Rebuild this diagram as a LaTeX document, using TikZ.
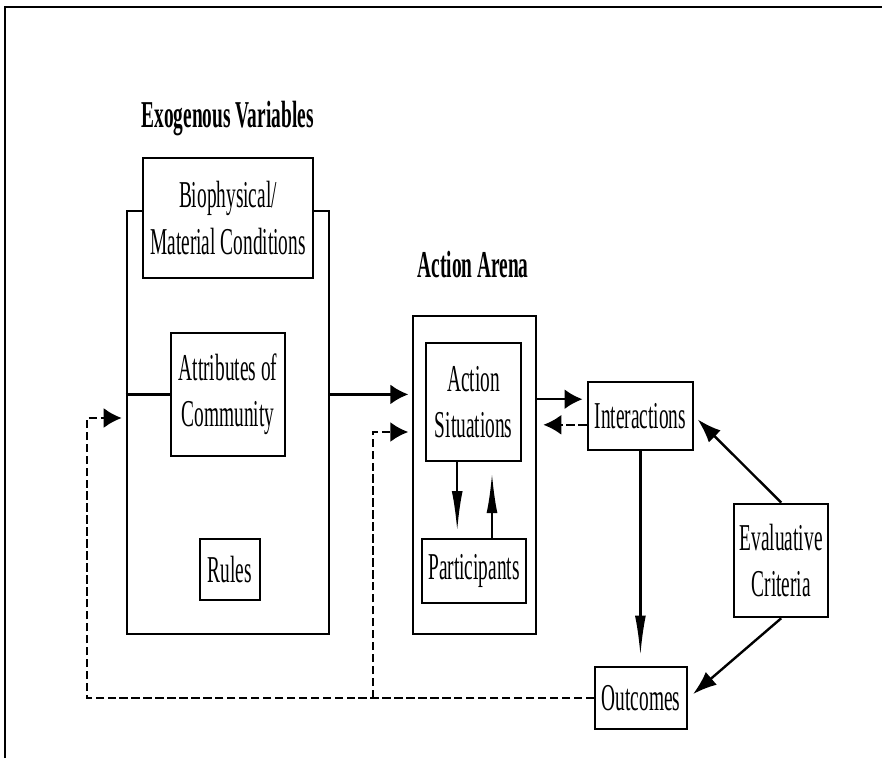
\documentclass[tikz,border=0pt]{standalone}
\usepackage{fontspec}
\setmainfont{Liberation Serif}[FakeStretch=0.51]
\usetikzlibrary{arrows.meta}
\begin{document}
\begin{tikzpicture}[x=1cm, y=-1cm, every node/.style={font=\fontsize{27}{33}\selectfont}]
        \tikzset{
            box/.style={draw,line width=1.8pt,fill=white,align=center,inner sep=0pt},
            head/.style={font=\fontsize{27}{33}\selectfont\bfseries,anchor=base},
            link/.style={line width=1.7pt},
            arr/.style={line width=1.7pt,-{Latex[length=0.45cm,width=0.5cm]}},
            varr/.style={line width=1.7pt,-{Latex[length=1cm,width=0.27cm]}},
            darr/.style={line width=1.7pt,-{Latex[length=0.6cm,width=0.42cm]}},
            fb/.style={arr,dash pattern=on 6pt off 2.5pt}
        }
        \useasboundingbox (0,0) rectangle (22.05,18.95);
        \draw[line width=1.6pt] (0.125,18.95) -- (0.125,0.175) -- (22.05,0.175);
        % exogenous side
        \node[head] (exohead) at (5.69,3.175) {Exogenous Variables};
        \node[box,minimum width=5.05cm,minimum height=10.57cm] (exo) at (5.7,10.56) {};
        \node[box,minimum width=4.25cm,minimum height=3.0cm] (bio) at (5.7,5.45) {Biophysical/\\Material Conditions};
        \node[box,minimum width=2.85cm,minimum height=3.08cm] (attr) at (5.7,9.86) {Attributes of\\Community};
        \node[box,minimum width=1.5cm,minimum height=1.53cm] (rules) at (5.75,14.24) {Rules};
        % action arena
        \node[head] (arenahead) at (11.83,6.93) {Action Arena};
        \node[box,minimum width=3.08cm,minimum height=7.95cm] (arena) at (11.86,11.88) {};
        \node[box,minimum width=2.38cm,minimum height=2.95cm] (sit) at (11.84,10.05) {Action\\Situations};
        \node[box,minimum width=2.6cm,minimum height=1.6cm] (part) at (11.85,14.28) {Participants};
        % right side
        \node[box,minimum width=2.63cm,minimum height=1.7cm] (inter) at (16.01,10.4) {Interactions};
        \node[box,minimum width=2.3cm,minimum height=1.55cm] (outc) at (16.03,17.45) {Outcomes};
        \node[box,minimum width=2.35cm,minimum height=2.83cm] (eval) at (19.53,14.01) {Evaluative\\Criteria};
        \coordinate (loopL) at (2.175,10.45);
        \coordinate (loopM) at (9.325,10.8);
        \coordinate (interIn) at ([yshift=0.42cm]inter.west);
        \coordinate (interOut) at ([yshift=-0.22cm]inter.west);
        \draw[link] (exo.west |- attr.west) -- (attr.west);
        \draw[arr,shorten >=0.08cm] (exo.east |- attr.west) -- (arena.west |- attr.west);
        \draw[fb,shorten >=0.1cm] (outc.west) -| (loopL) -- (exo.west |- loopL);
        \draw[fb,shorten >=0.08cm] (outc.west -| loopM) -- (loopM) -- (arena.west |- loopM);
        \draw[arr,shorten >=0.1cm] (arena.east |- interIn) -- (interIn);
        \draw[fb,shorten >=0.15cm] (interOut) -- (arena.east |- interOut);
        \draw[varr,shorten >=0.17cm] ([xshift=-0.41cm]sit.south) -- ([xshift=-0.41cm]sit.south |- part.north);
        \draw[varr,shorten >=0.27cm] ([xshift=0.45cm]part.north) -- ([xshift=0.45cm]part.north |- sit.south);
        \draw[varr,shorten >=0.25cm] (inter.south) -- (inter.south |- outc.north);
        \draw[darr,shorten >=0.12cm] (eval.north) -- (inter.east);
        \draw[darr,shorten >=0.15cm] (eval.south) -- (outc.east);
    \end{tikzpicture}
\end{document}
